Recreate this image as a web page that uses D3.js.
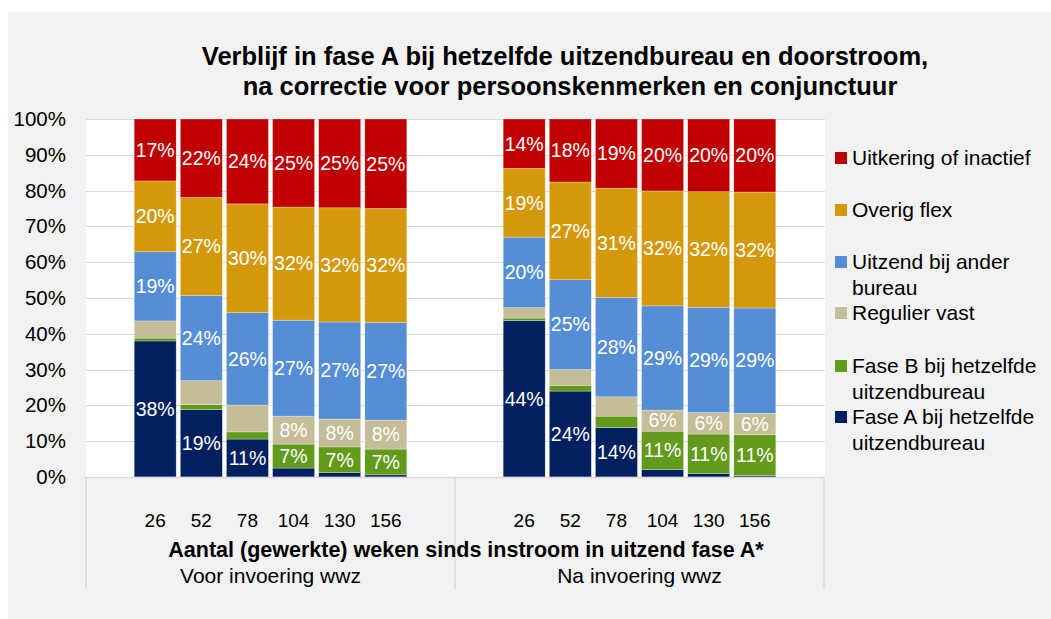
<!DOCTYPE html>
<html>
<head>
<meta charset="utf-8">
<script src="https://cdn.jsdelivr.net/npm/d3@7/dist/d3.min.js"></script>
<style>
  html, body { margin: 0; padding: 0; background: #ffffff; }
  svg { display: block; }
  text { font-family: Arial, "Liberation Sans", sans-serif; }
</style>
</head>
<body>
<svg id="chart" width="1051" height="619"></svg>
<script>
// ---- data ----
const groups = ["Voor invoering wwz", "Na invoering wwz"];
const weeks = ["26", "52", "78", "104", "130", "156"];
const seriesNames = [
  "Fase A bij hetzelfde uitzendbureau",
  "Fase B bij hetzelfde uitzendbureau",
  "Regulier vast",
  "Uitzend bij ander bureau",
  "Overig flex",
  "Uitkering of inactief"
];
const seriesColors = ["#002060", "#629A1B", "#C4BD97", "#558ED5", "#D4990B", "#C00000"];
// values in %, per group: [series][week]
const faseA_voor   = [38.0, 18.8, 10.6, 2.5, 1.2, 0.6];
const faseB_voor   = [0.8, 1.4, 2.0, 6.7, 7.2, 7.2];
const vast_voor    = [4.8, 6.7, 7.5, 7.8, 7.8, 8.1];
const ander_voor   = [19.3, 23.8, 25.8, 26.8, 27.1, 27.2];
const flex_voor    = [19.8, 27.4, 30.4, 31.6, 31.9, 31.9];
const uitk_voor    = [17.3, 21.9, 23.7, 24.6, 24.8, 25.0];
const faseA_na     = [43.7, 24.0, 13.8, 2.1, 1.0, 0.4];
const faseB_na     = [0.7, 1.6, 3.2, 10.7, 11.0, 11.4];
const vast_na      = [2.9, 4.4, 5.4, 5.9, 6.0, 6.0];
const ander_na     = [19.7, 25.1, 27.7, 29.1, 29.4, 29.4];
const flex_na      = [19.2, 27.3, 30.6, 32.1, 32.3, 32.4];
const uitk_na      = [13.8, 17.6, 19.3, 20.1, 20.3, 20.4];
// which data labels are shown (per series, per week; same in both groups)
const showFaseA = [true, true, true, false, false, false];
const showFaseB = [false, false, false, true, true, true];
const showVast  = [false, false, false, true, true, true];
const showAlways = [true, true, true, true, true, true];
const yTicks = [0, 10, 20, 30, 40, 50, 60, 70, 80, 90, 100];
const chartTitle = ["Verblijf in fase A bij hetzelfde uitzendbureau en doorstroom,",
                    "na correctie voor persoonskenmerken en conjunctuur"];
const xAxisTitle = "Aantal (gewerkte) weken sinds instroom in uitzend fase A*";

const groupData = [
  [faseA_voor, faseB_voor, vast_voor, ander_voor, flex_voor, uitk_voor],
  [faseA_na, faseB_na, vast_na, ander_na, flex_na, uitk_na]
];
const showMask = [showFaseA, showFaseB, showVast, showAlways, showAlways, showAlways];

// ---- layout ----
const svg = d3.select("#chart");
const W = 1051, H = 619;
const plotL = 86, plotR = 825, plotT = 119, plotB = 477;
const axisR = 824, axisBoxB = 589;

svg.append("rect").attr("x", 8).attr("y", 12).attr("width", W - 8).attr("height", H - 12)
  .attr("fill", "#f2f2f2");

svg.append("rect").attr("x", plotL).attr("y", plotT).attr("width", plotR - plotL)
  .attr("height", plotB - plotT).attr("fill", "#ffffff");

const y = d3.scaleLinear().domain([0, 100]).range([plotB, plotT]);
const xGroup = d3.scaleBand().domain(groups).range([plotL, axisR]).padding(0);
const pi = 0.09;
const xWeek = d3.scaleBand().domain(weeks).range([0, xGroup.bandwidth()])
  .paddingInner(pi).paddingOuter(1 + pi / 2);

// gridlines
svg.append("g").selectAll("line").data(yTicks).join("line")
  .attr("x1", plotL).attr("x2", plotR)
  .attr("y1", d => Math.round(y(d)) + 0.5).attr("y2", d => Math.round(y(d)) + 0.5)
  .attr("stroke", "#d9d9d9").attr("stroke-width", 1.2);

// y axis labels
const yAxis = d3.axisLeft(y).tickValues(yTicks).tickFormat(d => d + "%").tickSize(0).tickPadding(20);
const yg = svg.append("g").attr("transform", `translate(${plotL},0)`).call(yAxis);
yg.select(".domain").remove();
yg.selectAll("text").attr("font-size", 20.5).attr("fill", "#000").attr("font-family", "Arial, 'Liberation Sans', sans-serif");

// bars
groups.forEach((g, gi) => {
  const gx = xGroup(g);
  const data = groupData[gi];
  weeks.forEach((w, wi) => {
    let cum = 0;
    data.forEach((s, si) => {
      const v = s[wi];
      const y0 = y(cum), y1 = y(cum + v);
      svg.append("rect")
        .attr("x", gx + xWeek(w)).attr("width", xWeek.bandwidth())
        .attr("y", y1).attr("height", y0 - y1)
        .attr("fill", seriesColors[si])
        .attr("stroke", "#ffffff").attr("stroke-opacity", 0.45).attr("stroke-width", 0.6);
      if (showMask[si][wi]) {
        svg.append("text")
          .attr("x", gx + xWeek(w) + xWeek.bandwidth() / 2)
          .attr("y", (y0 + y1) / 2)
          .attr("dy", "0.35em")
          .attr("text-anchor", "middle")
          .attr("font-size", 19.5).attr("fill", "#ffffff")
          .text(d3.format(".0f")(v) + "%");
      }
      cum += v;
    });
  });
});

// category axis box
const axisG = svg.append("g").attr("stroke", "#d9d9d9").attr("stroke-width", 1.5);
axisG.append("line").attr("x1", plotL).attr("x2", axisR).attr("y1", plotB + 0.5).attr("y2", plotB + 0.5);
[plotL, xGroup(groups[1]), axisR].forEach(xx => {
  axisG.append("line").attr("x1", xx).attr("x2", xx).attr("y1", plotB).attr("y2", axisBoxB);
});

groups.forEach(g => {
  const gx = xGroup(g);
  svg.append("g").selectAll("text").data(weeks).join("text")
    .attr("x", w => gx + xWeek(w) + xWeek.bandwidth() / 2)
    .attr("y", 527).attr("text-anchor", "middle")
    .attr("font-size", 19).attr("fill", "#000").text(w => w);
  svg.append("text").attr("x", gx + xGroup.bandwidth() / 2).attr("y", 583)
    .attr("text-anchor", "middle").attr("font-size", 21).attr("fill", "#000").text(g);
});

svg.append("text").attr("x", 466).attr("y", 557).attr("text-anchor", "middle")
  .attr("font-size", 21.5).attr("font-weight", "bold").attr("fill", "#000").text(xAxisTitle);

// title
const titleX = [565, 570];
svg.append("g").selectAll("text").data(chartTitle).join("text")
  .attr("x", (d, i) => titleX[i]).attr("y", (d, i) => 65 + i * 30).attr("text-anchor", "middle")
  .attr("font-size", 25.5).attr("font-weight", "bold").attr("fill", "#000").text(d => d);

// legend
const legendItems = [
  { si: 5, lines: ["Uitkering of inactief"], y: 158 },
  { si: 4, lines: ["Overig flex"], y: 210 },
  { si: 3, lines: ["Uitzend bij ander", "bureau"], y: 262 },
  { si: 2, lines: ["Regulier vast"], y: 313 },
  { si: 1, lines: ["Fase B bij hetzelfde", "uitzendbureau"], y: 366 },
  { si: 0, lines: ["Fase A bij hetzelfde", "uitzendbureau"], y: 417 }
];
const lg = svg.append("g");
legendItems.forEach(it => {
  lg.append("rect").attr("x", 835).attr("y", it.y - 6).attr("width", 12).attr("height", 12)
    .attr("fill", seriesColors[it.si]);
  it.lines.forEach((ln, li) => {
    lg.append("text").attr("x", 852).attr("y", it.y + li * 25.5).attr("dy", "0.35em")
      .attr("font-size", 21).attr("fill", "#000").text(ln);
  });
});
</script>
</body>
</html>
